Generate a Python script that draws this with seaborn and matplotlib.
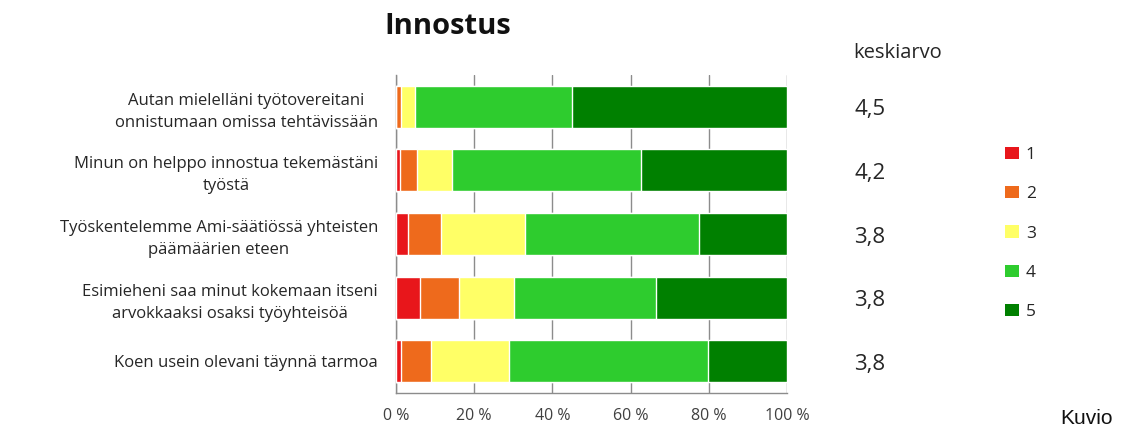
import numpy as np
import pandas as pd
import matplotlib
matplotlib.use("Agg")
import matplotlib.pyplot as plt
import matplotlib.transforms as mtransforms
from matplotlib.patches import Patch
import seaborn as sns

sns.set_theme(style="white")
plt.rcParams["font.family"] = ["Open Sans", "DejaVu Sans"]

# =======================
# Data (share of answers, %)
# =======================
questions = [
    "Autan mielelläni työtovereitani\nonnistumaan omissa tehtävissään",
    "Minun on helppo innostua tekemästäni\ntyöstä",
    "Työskentelemme Ami-säätiössä yhteisten\npäämäärien eteen",
    "Esimieheni saa minut kokemaan itseni\narvokkaaksi osaksi työyhteisöä",
    "Koen usein olevani täynnä tarmoa",
]
share_1 = [0.0, 0.9, 3.1, 6.1, 1.2]
share_2 = [1.2, 4.4, 8.3, 9.9, 7.8]
share_3 = [3.7, 8.9, 21.6, 14.1, 19.8]
share_4 = [40.1, 48.4, 44.6, 36.3, 50.9]
share_5 = [55.0, 37.4, 22.4, 33.6, 20.3]
means = ["4,5", "4,2", "3,8", "3,8", "3,8"]
levels = ["1", "2", "3", "4", "5"]
colors = ["#e8161b", "#ee6a1c", "#ffff66", "#2ecc2e", "#008000"]
xticks = [0, 20, 40, 60, 80, 100]

shares = np.array([share_1, share_2, share_3, share_4, share_5])
cum = shares.cumsum(axis=0)

# =======================
# Plot
# =======================
fig = plt.figure(figsize=(11.43, 4.30), dpi=100)
ax = fig.add_axes([396 / 1143, 1 - 393 / 430, 391 / 1143, 318 / 430])

# stacked bars: draw cumulative totals from the top level down
for i in reversed(range(len(levels))):
    df = pd.DataFrame({"question": questions, "value": cum[i]})
    sns.barplot(data=df, x="value", y="question", orient="h", color=colors[i],
                saturation=1, width=0.66, ax=ax, zorder=3)

ax.set_xlim(0, 100)
ax.set_xticks(xticks)
ax.set_xticklabels([f"{t} %" for t in xticks])
ax.set_xlabel("")
ax.set_ylabel("")
ax.grid(axis="x", color="#8c8c8c", linewidth=1, zorder=0)
ax.grid(axis="y", visible=False)
for s in ["top", "right"]:
    ax.spines[s].set_visible(False)
for s in ["left", "bottom"]:
    ax.spines[s].set_color("#8c8c8c")
    ax.spines[s].set_linewidth(1)
ax.tick_params(axis="x", length=0, pad=11, labelsize=11.5, labelcolor="#404040")
ax.tick_params(axis="y", length=0, pad=13, labelsize=12, labelcolor="#262626")
for lab in ax.get_yticklabels():
    lab.set_multialignment("center")
    lab.set_linespacing(1.5)

# mean values on the right
trans = mtransforms.blended_transform_factory(ax.transAxes, ax.transData)
for i, m in enumerate(means):
    ax.text((870 - 396) / 391, i + 0.05, m, transform=trans, ha="center", va="center",
            fontsize=16, color="#262626")

fig.text(853 / 1143, 1 - 53 / 430, "keskiarvo", ha="left", va="center",
         fontsize=14.5, color="#262626")
fig.text(448 / 1143, 1 - 27 / 430, "Innostus", ha="center", va="center",
         fontsize=21, fontweight="bold", color="#111111")

handles = [Patch(facecolor=c, edgecolor="none") for c in colors]
fig.legend(handles, levels, loc="upper left", bbox_to_anchor=(1005 / 1143, 1 - 147 / 430),
           frameon=False, fontsize=12.5, handlelength=0.8, handleheight=0.7,
           handletextpad=0.4, labelspacing=1.33, borderpad=0, borderaxespad=0)

fig.text(1060 / 1143, 2 / 430, "Kuvio", ha="left", va="bottom",
         fontsize=15, color="#111111", family=["Liberation Sans", "DejaVu Sans"])

fig.savefig("out.png", dpi=100)
